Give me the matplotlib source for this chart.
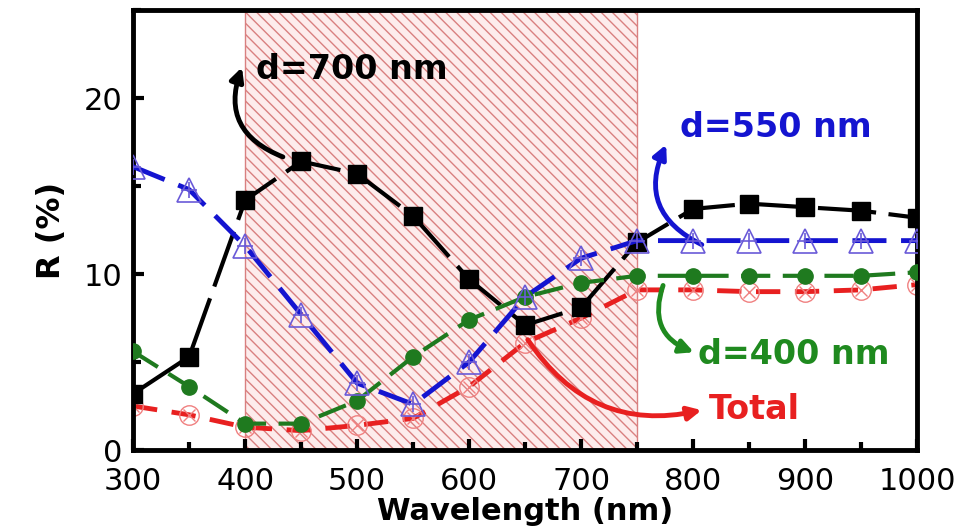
import matplotlib
matplotlib.use("Agg")
import matplotlib.pyplot as plt
from matplotlib.ticker import MultipleLocator

wavelength = [300, 350, 400, 450, 500, 550, 600, 650, 700, 750, 800, 850, 900, 950, 1000]
r_700 = [3.2, 5.3, 14.2, 16.4, 15.7, 13.3, 9.7, 7.1, 8.1, 11.8, 13.7, 14.0, 13.8, 13.6, 13.2]
r_550 = [16.1, 14.8, 11.6, 7.7, 3.8, 2.6, 5.0, 8.7, 10.9, 11.9, 11.9, 11.9, 11.9, 11.9, 11.9]
r_400 = [5.6, 3.6, 1.5, 1.5, 2.8, 5.3, 7.4, 8.7, 9.5, 9.9, 9.9, 9.9, 9.9, 9.9, 10.1]
r_total = [2.5, 2.0, 1.3, 1.1, 1.4, 1.8, 3.6, 6.1, 7.5, 9.1, 9.1, 9.0, 9.0, 9.1, 9.4]
band = (400, 750)

plt.rcParams['font.family'] = ['DejaVu Sans']
plt.rcParams['hatch.linewidth'] = 1.0

fig = plt.figure(figsize=(9.72, 5.31), dpi=100)
ax = fig.add_axes([0.137, 0.1525, 0.8065, 0.8285])

ax.axvspan(band[0], band[1], facecolor='#fdecec', edgecolor='#d98080',
           hatch='\\\\\\', linewidth=1.0, zorder=0)

ax.plot(wavelength, r_700, color='black', lw=3, dashes=(14, 3), marker='s', ms=13,
        mfc='black', mec='black', zorder=3)
ax.plot(wavelength, r_550, color='#1414d0', lw=3.5, dashes=(7, 3), zorder=3)
ax.plot(wavelength, r_550, ls='none', marker='^', ms=17, mfc='none', mec='#6a5ad8', mew=1.2, zorder=4)
ax.plot(wavelength, r_550, ls='none', marker='+', ms=12, mec='#6a5ad8', mew=1.2, zorder=4)
ax.plot(wavelength, r_400, color='#1f7a1f', lw=3, dashes=(7, 3), marker='o', ms=11,
        mfc='#1f7a1f', mec='#1f7a1f', zorder=3)
ax.plot(wavelength, r_total, color='#e82020', lw=3.5, dashes=(5, 3), zorder=2)
ax.plot(wavelength, r_total, ls='none', marker='o', ms=14, mfc='none', mec='#f08080', mew=1.0, zorder=2)
ax.plot(wavelength, r_total, ls='none', marker='x', ms=9, mec='#f08080', mew=1.0, zorder=2)

arrow_kw = dict(arrowstyle='-|>,head_length=0.8,head_width=0.4', lw=3.5)
ax.annotate('', xy=(398, 21.9), xytext=(436, 16.6),
            arrowprops=dict(color='black', connectionstyle='arc3,rad=-0.5', **arrow_kw))
ax.text(410, 21.6, 'd=700 nm', color='black', fontsize=24, fontweight='bold', va='center')

ax.annotate('', xy=(777, 17.5), xytext=(810, 11.6),
            arrowprops=dict(color='#1414d0', connectionstyle='arc3,rad=-0.5', **arrow_kw))
ax.text(788, 18.3, 'd=550 nm', color='#1414d0', fontsize=24, fontweight='bold', va='center')

ax.annotate('', xy=(803, 5.5), xytext=(774, 9.5),
            arrowprops=dict(color='#1f8a1f', connectionstyle='arc3,rad=0.5', **arrow_kw))
ax.text(804, 5.4, 'd=400 nm', color='#1f8a1f', fontsize=24, fontweight='bold', va='center')

ax.annotate('', xy=(810, 2.3), xytext=(651, 6.4),
            arrowprops=dict(color='#e82020', connectionstyle='arc3,rad=0.35', **arrow_kw))
ax.text(814, 2.3, 'Total', color='#e82020', fontsize=24, fontweight='bold', va='center')

ax.set_xlim(300, 1000)
ax.set_ylim(0, 25)
ax.xaxis.set_major_locator(MultipleLocator(100))
ax.xaxis.set_minor_locator(MultipleLocator(50))
ax.yaxis.set_major_locator(MultipleLocator(10))
ax.yaxis.set_minor_locator(MultipleLocator(5))
ax.tick_params(which='both', direction='in', width=3, labelsize=22)
ax.tick_params(axis='x', pad=12)
ax.tick_params(axis='y', pad=8)
ax.tick_params(which='major', length=8)
ax.tick_params(which='minor', length=6)
for s in ax.spines.values():
    s.set_linewidth(3.5)

ax.set_xlabel('Wavelength (nm)', fontsize=22, fontweight='bold', labelpad=1)
ax.set_ylabel('R (%)', fontsize=23, fontweight='bold', labelpad=12)

fig.savefig('out.png', dpi=100)
